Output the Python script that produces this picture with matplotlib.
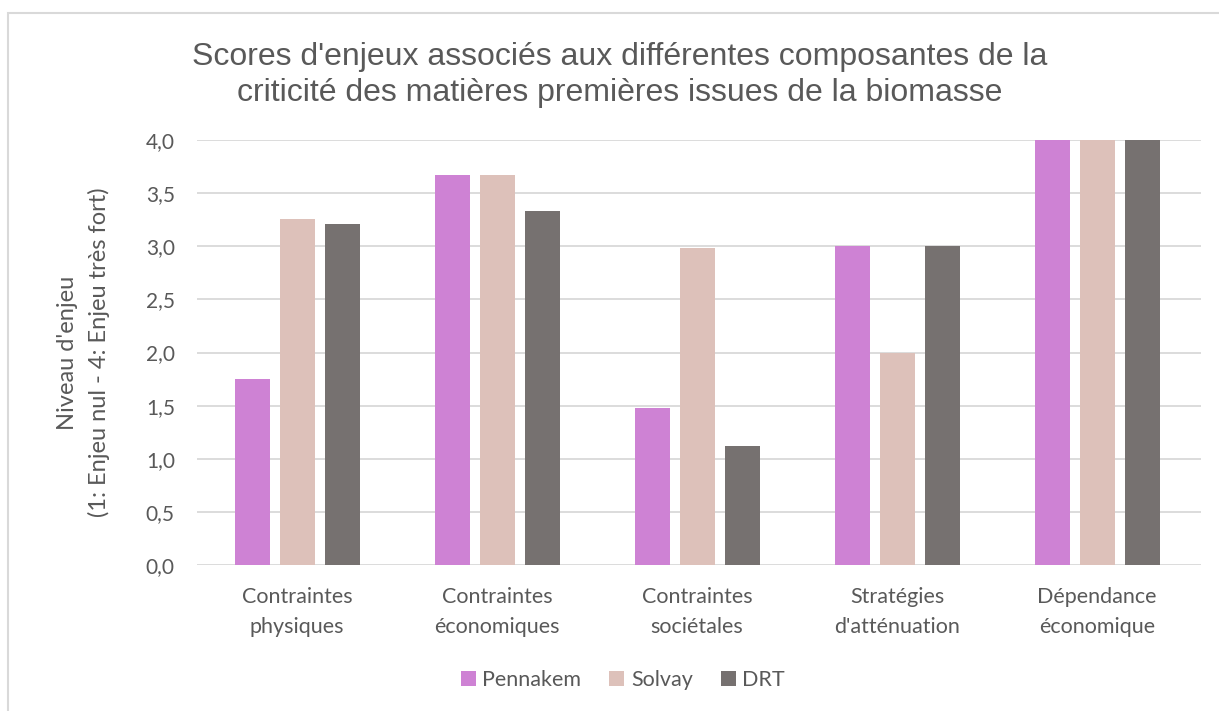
import numpy as np
import matplotlib
matplotlib.use('Agg')
import matplotlib.pyplot as plt
from matplotlib.patches import Rectangle

categories = ['Contraintes\nphysiques', 'Contraintes\néconomiques', 'Contraintes\nsociétales',
              "Stratégies\nd'atténuation", 'Dépendance\néconomique']
pennakem = [1.75, 3.67, 1.48, 3.0, 4.0]
solvay = [3.26, 3.67, 2.98, 2.0, 4.0]
drt = [3.21, 3.33, 1.12, 3.0, 4.0]
series = ['Pennakem', 'Solvay', 'DRT']
colors = ['#CE82D4', '#DDC1BA', '#767170']
yticks = [0, 0.5, 1, 1.5, 2, 2.5, 3, 3.5, 4]

txt = '#595959'
fig = plt.figure(figsize=(12.19, 7.11), dpi=100)
ax = fig.add_axes([197/1219, 1-565/711, 1004/1219, 425/711])

# chart border like the office export
fig.patches.append(Rectangle((8/1219, -0.1), 1.2, 1-13/711+0.1, transform=fig.transFigure,
                             fill=False, edgecolor='#D9D9D9', lw=1.5))

x = np.arange(len(categories))
w = 0.175
for i, (vals, c, name) in enumerate(zip([pennakem, solvay, drt], colors, series)):
    ax.bar(x + (i - 1) * 0.225, vals, w, color=c, label=name, zorder=3)

ax.set_xlim(-0.5, 4.52)
ax.set_ylim(0, 4.0)
ax.set_yticks(yticks)
ax.set_yticklabels([f'{v:.1f}'.replace('.', ',') for v in yticks],
                   fontsize=15, color=txt, family='Lato')
ax.set_xticks(x)
ax.set_xticklabels(categories, fontsize=15.5, color=txt, family='Lato', linespacing=1.6)
ax.tick_params(axis='both', length=0)
ax.tick_params(axis='y', pad=16)
ax.tick_params(axis='x', pad=16)
ax.grid(axis='y', color='#D9D9D9', lw=1.3, zorder=0)
for s in ax.spines.values():
    s.set_visible(False)

ax.set_ylabel("Niveau d'enjeu\n(1: Enjeu nul - 4: Enjeu très fort)", fontsize=17,
              color=txt, family='Lato', linespacing=1.55, labelpad=26)

fig.text(0.508, 1-75/711, "Scores d'enjeux associés aux différentes composantes de la\n"
         "criticité des matières premières issues de la biomasse",
         ha='center', va='center', fontsize=23, color=txt, family='Liberation Sans',
         linespacing=1.3)

fig.legend(loc='center', bbox_to_anchor=(0.511, 1-680/711), ncol=3, frameon=False,
           handlelength=0.7, handleheight=0.7, handletextpad=0.3,
           columnspacing=1.3, labelcolor=txt, prop={'family': 'Lato', 'size': 15.5})

fig.savefig('out.png', dpi=100)
